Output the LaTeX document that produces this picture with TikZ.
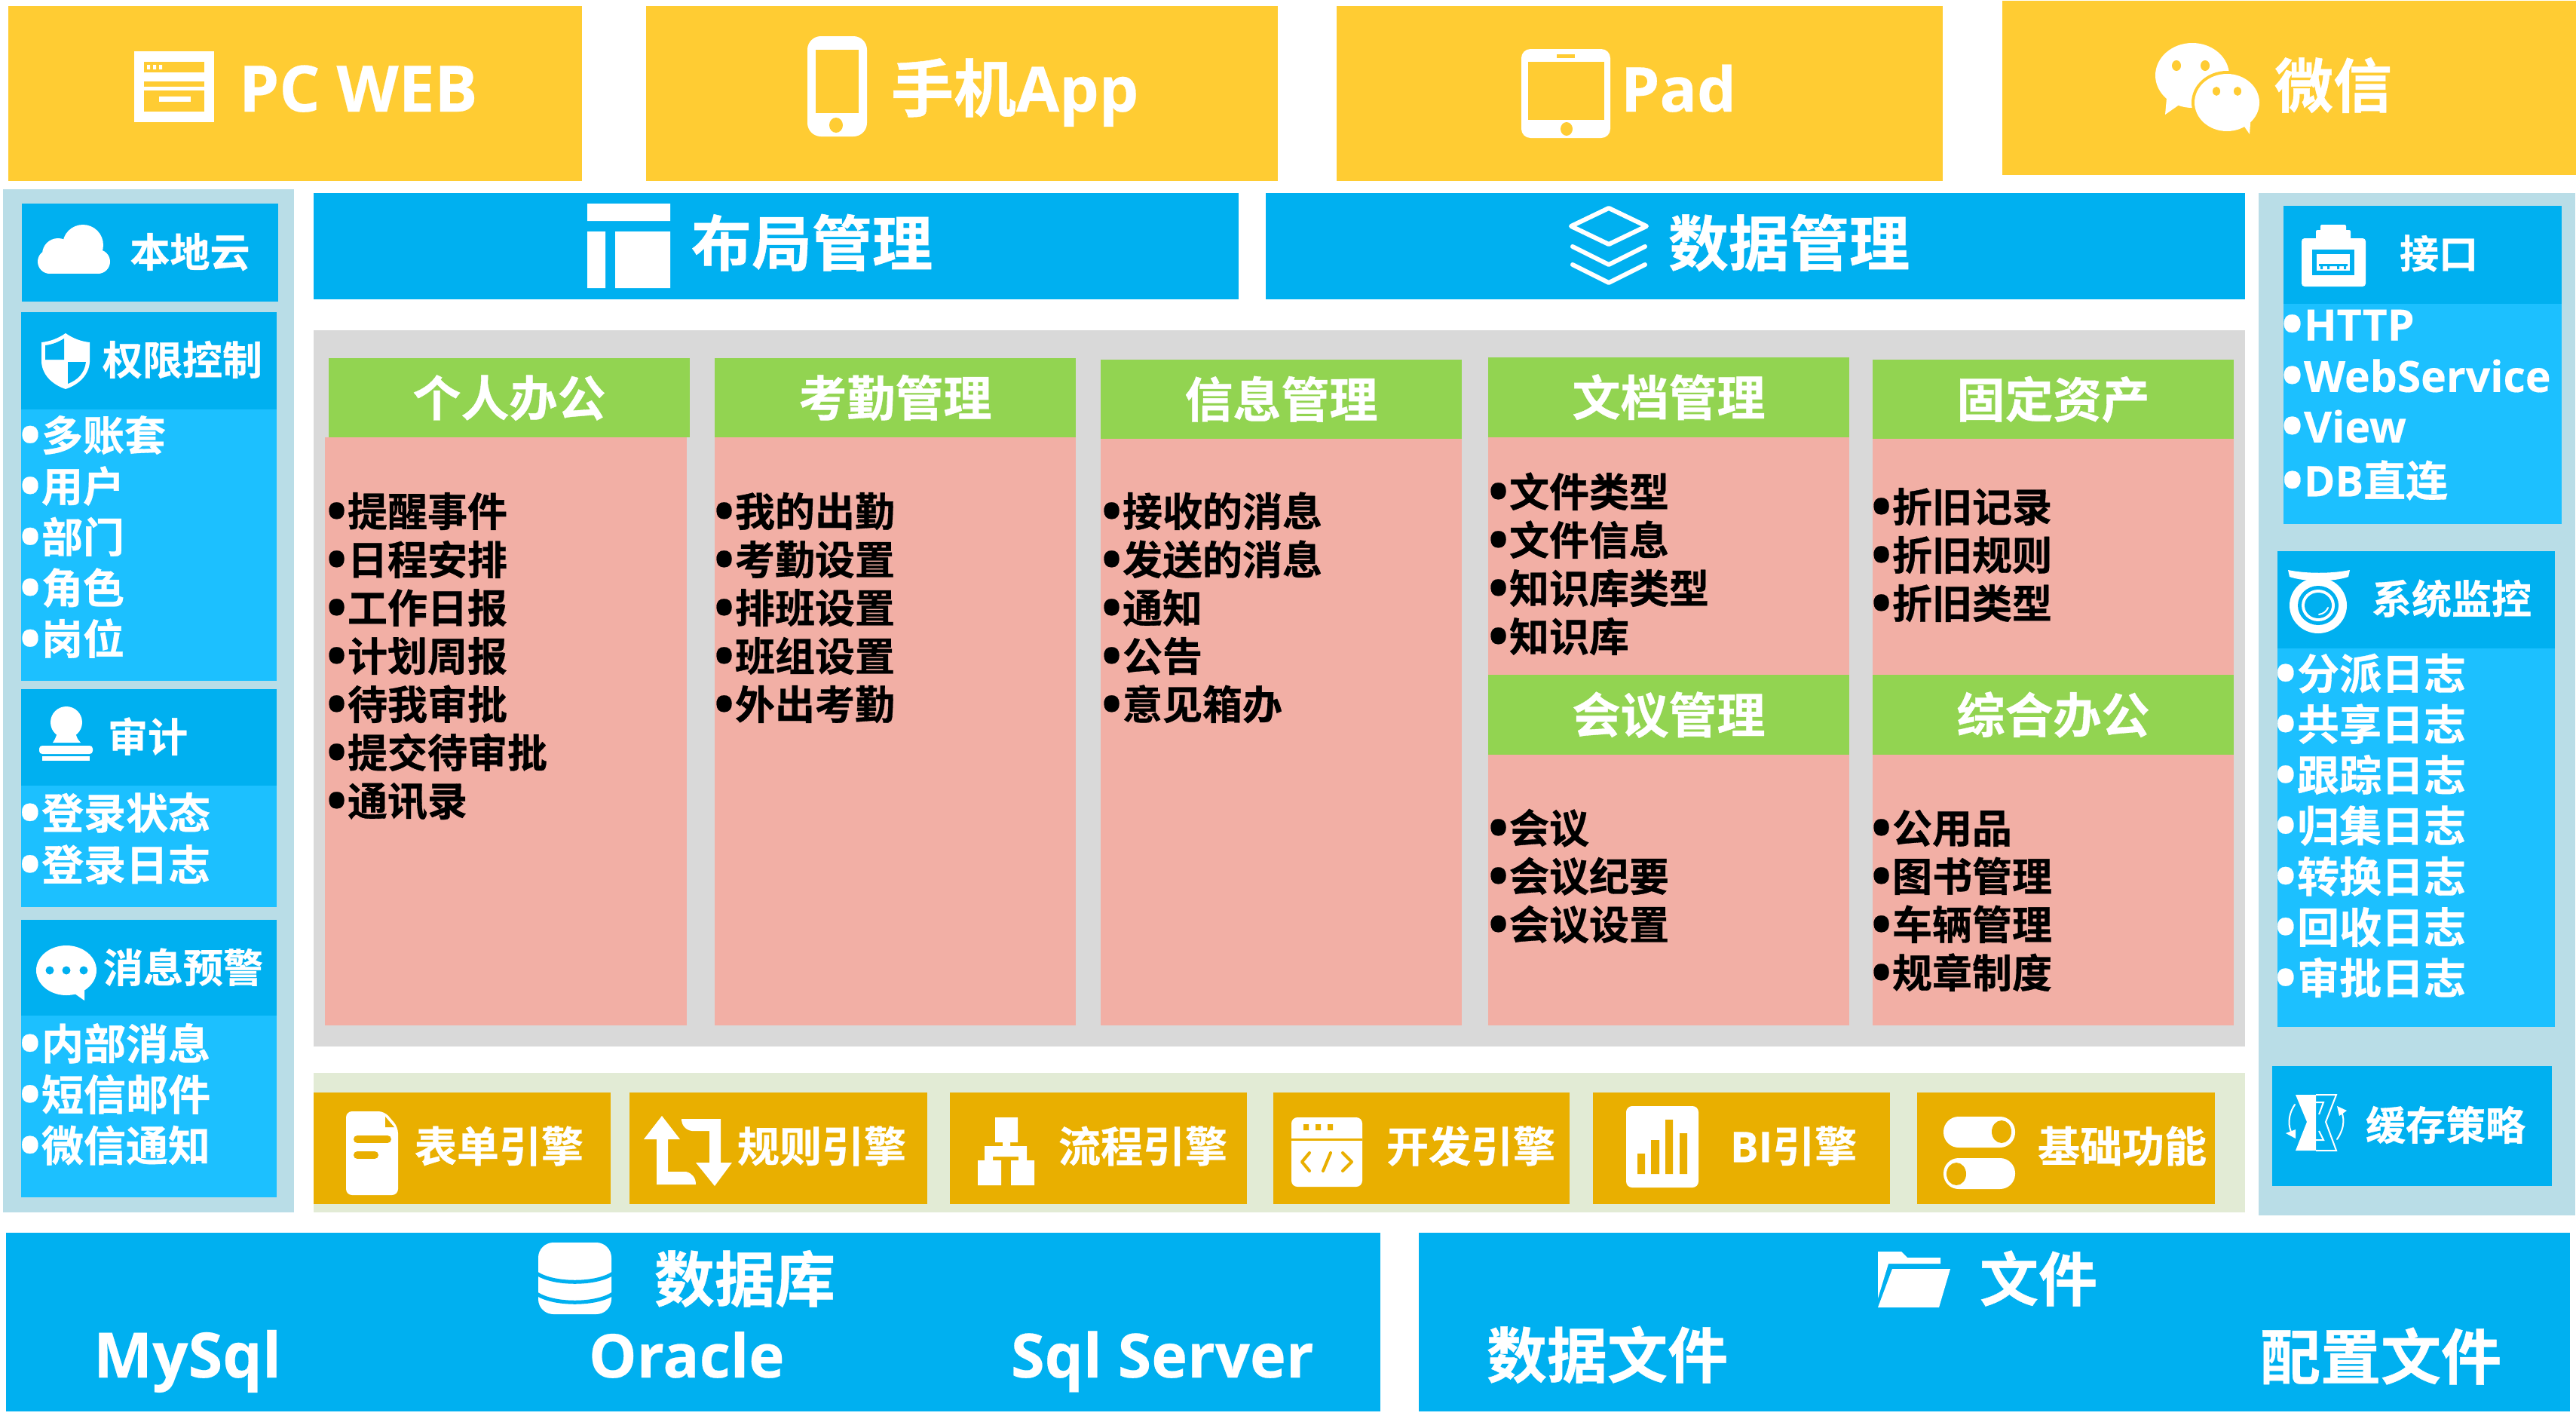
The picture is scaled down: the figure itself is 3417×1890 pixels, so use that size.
\documentclass[tikz,border=0pt]{standalone}
\usepackage{fontspec}
\newfontfamily\cjk{Noto Sans CJK SC}[BoldFont={* Bold},BoldFeatures={FakeBold=0.6}]
\newfontfamily\lat{Open Sans}[BoldFont={* Bold},BoldFeatures={FakeBold=0.3}]
\definecolor{orangeY}{HTML}{FFCC33}
\definecolor{blueA}{HTML}{00B0F0}
\definecolor{blueB}{HTML}{1CC0FF}
\definecolor{pillar}{HTML}{B9DDE7}
\definecolor{goldE}{HTML}{E9AF00}
\definecolor{greenH}{HTML}{92D451}
\definecolor{salmon}{HTML}{F2AFA5}
\definecolor{grayM}{HTML}{D9D9D9}
\definecolor{greenL}{HTML}{E2EBD5}
\tikzset{
  tx/.style={inner sep=0pt,outer sep=0pt,align=left,font=\fontsize{#1 pt}{#1 pt}\cjk\bfseries,
    text height={0.88*#1 pt},text depth={0.12*#1 pt}},
  tw/.style={tx=#1,text=white},
  tk/.style={tx=#1,text=black},
  lt/.style={inner sep=0pt,outer sep=0pt,text=white,font=\fontsize{#1 pt}{#1 pt}\lat\bfseries},
  bxs/.style={inner sep=0pt,outer sep=0pt,draw=none,fill=#1}
}
% \bx[options]{name}{x1}{y1}{x2}{y2}{text}
\newcommand{\bx}[7][]{%
  \pgfmathsetmacro\bxw{(#5-#3)*0.5}\pgfmathsetmacro\bxh{(#6-#4)*0.5}%
  \pgfmathsetmacro\bxx{(#5+#3)/2}\pgfmathsetmacro\bxy{(#6+#4)/2}%
  \node[inner sep=0pt,outer sep=0pt,minimum width=\bxw pt,minimum height=\bxh pt,#1] (#2) at (\bxx,\bxy) {#7};%
}
\newcommand{\itm}[1]{\llap{\raisebox{-0.1em}{\scalebox{1.35}{\lat\bfseries •}}\kern 0.5pt}#1}
\begin{document}
\begin{tikzpicture}[x=0.5pt,y=-0.5pt]
\useasboundingbox (0,0) rectangle (3417,1890);
\fill[white] (0,0) rectangle (3417,1890);
% ---------- top row
\fill[orangeY] (11,8) rectangle (772,240);
\fill[orangeY] (857,8) rectangle (1695,240);
\fill[orangeY] (1773,8) rectangle (2577,240);
\fill[orangeY] (2656,1) rectangle (3417,232);
\node[lt=42.5,anchor=base west] (pcweb) at (317,148) {PC WEB};
\node[tw=41.5,anchor=base west,text depth=0pt] (app) at (1182,148) {手机{\lat App}};
\node[lt=41,anchor=base west] (pad) at (2150,148) {Pad};
\node[tw=39,anchor=center] (wx) at (3095,113) {微信};
% PC WEB icon
\fill[white] (178,68) rectangle (284,162);
\fill[orangeY] (191,82) rectangle (271,96);
\fill[white] (195,86) rectangle (199,92) (203,86) rectangle (207,92) (211,86) rectangle (215,92);
\fill[orangeY] (191,108) rectangle (271,148);
\fill[white] (191,115) rectangle (271,120);
\fill[white] (211,128) rectangle (253,135);
% phone
\fill[white,rounded corners=9pt] (1071,48) rectangle (1150,181);
\fill[orangeY] (1082,66) rectangle (1139,150);
\fill[orangeY] (1109,166) ellipse (9 and 10);
% pad
\fill[white,rounded corners=6pt] (2018,65) rectangle (2136,183);
\fill[orangeY] (2027,82) rectangle (2128,159);
\fill[orangeY] (2065,72) rectangle (2089,77);
\fill[orangeY] (2078,171) ellipse (8 and 9);
% wechat
\fill[white] (2908,100) ellipse (49 and 43);
\fill[white] (2874,130) -- (2872,152) -- (2892,138) -- cycle;
\fill[orangeY] (2954,136) ellipse (47 and 42);
\fill[white] (2954,136) ellipse (43 and 38);
\fill[white] (2975,165) -- (2984,178) -- (2986,150) -- cycle;
\fill[orangeY] (2887,87) ellipse (6 and 7) (2925,87) ellipse (6 and 7) (2940,121) ellipse (5 and 6) (2968,121) ellipse (5 and 6);
% ---------- left pillar
\fill[pillar] (4,251) rectangle (390,1608);
\bx[bxs=blueA]{cloudb}{29}{270}{369}{400}{}
\node[tw=26.5] (bendi) at (252,334) {本地云};
\fill[white] (110,325) circle (27) (77,337) circle (21) (66,347) circle (16) (130,347) circle (16);
\fill[white] (66,335) rectangle (130,363);
\fill[blueA] (28,414) rectangle (367,543);
\fill[blueB] (28,543) rectangle (367,903);
\node[tw=26.5] (quanxian) at (242,477) {权限控制};
\fill[white] (87,442) .. controls (97,449) and (108,453) .. (119,454) -- (119,480) .. controls (118,497) and (105,510) .. (87,516) .. controls (69,510) and (56,497) .. (55,480) -- (55,454) .. controls (66,453) and (77,449) .. (87,442) -- cycle;
\fill[blueA] (85,449) .. controls (77,454) and (69,457) .. (60,458) -- (60,477) -- (85,477) -- cycle;
\fill[blueA] (90,480) -- (114,480) .. controls (112,495) and (103,504) .. (90,509) -- cycle;
\foreach \t [count=\i] in {多账套,用户,部门,角色,岗位}{
  \node[tw=27.5,anchor=west,name=q\i] at (55,577+67.5*\i-67.5) {\itm{\t}};
}
\fill[blueA] (28,914) rectangle (367,1042);
\fill[blueB] (28,1042) rectangle (367,1203);
\node[tw=26.5] (shenji) at (196,977) {审计};
\fill[white] (88,958) circle (21);
\fill[white] (77,970) -- (99,970) -- (103,980) -- (107,985) -- (70,985) -- (73,980) -- cycle;
\fill[white,rounded corners=2pt] (52,989) rectangle (123,1000);
\fill[white] (56,1003) rectangle (119,1009);
\foreach \t [count=\i] in {登录状态,登录日志}{
  \node[tw=28,anchor=west,name=s\i] at (55,1078+68.5*\i-68.5) {\itm{\t}};
}
\fill[blueA] (28,1220) rectangle (367,1347);
\fill[blueB] (28,1347) rectangle (367,1588);
\node[tw=26.5] (xiaoxi) at (243,1283) {消息预警};
\fill[white] (88,1287) ellipse (40 and 33);
\fill[white] (95,1315) -- (112,1327) -- (112,1308) -- cycle;
\fill[blueA] (66,1287) circle (5.5) (88,1287) circle (5.5) (111,1287) circle (5.5);
\foreach \t [count=\i] in {内部消息,短信邮件,微信通知}{
  \node[tw=28,anchor=west,name=x\i] at (55,1384+67.5*\i-67.5) {\itm{\t}};
}
% ---------- management bars
\fill[blueA] (416,256) rectangle (1643,397);
\fill[blueA] (1679,256) rectangle (2978,397);
\node[tw=40,anchor=west] (buju) at (917,322) {布局管理};
\node[tw=40,anchor=west] (shuju) at (2213,322) {数据管理};
\fill[white] (779,270) rectangle (889,293) (779,307) rectangle (803,382) (816,307) rectangle (889,382);
\draw[white,line width=3pt,line join=round] (2134,276) -- (2184,300) -- (2134,324) -- (2084,300) -- cycle;
\draw[white,line width=3pt,line join=round,line cap=round] (2086,327) -- (2134,351) -- (2182,327);
\draw[white,line width=3pt,line join=round,line cap=round] (2086,351) -- (2134,375) -- (2182,351);
% ---------- centre
\fill[grayM] (416,438) rectangle (2978,1388);
\foreach \a/\b in {431/911,948/1427,1460/1939}{\fill[salmon] (\a,580) rectangle (\b,1360);}
\foreach \a/\b in {1974/2453,2484/2963}{\fill[salmon] (\a,580) rectangle (\b,1360);}
\bx[bxs=greenH,tw=32]{hd1}{436}{475}{915}{580}{个人办公}
\bx[bxs=greenH,tw=32]{hd2}{948}{475}{1427}{580}{考勤管理}
\bx[bxs=greenH,tw=32]{hd3}{1460}{477}{1939}{582}{信息管理}
\bx[bxs=greenH,tw=32]{hd4}{1974}{474}{2453}{580}{文档管理}
\bx[bxs=greenH,tw=32]{hd5}{2484}{477}{2963}{582}{固定资产}
\bx[bxs=greenH,tw=32]{hd6}{1974}{895}{2453}{1001}{会议管理}
\bx[bxs=greenH,tw=32]{hd7}{2484}{895}{2963}{1001}{综合办公}
\foreach \t [count=\i] in {提醒事件,日程安排,工作日报,计划周报,待我审批,提交待审批,通讯录}{
  \node[tk=26.5,anchor=west,name=a\i] at (461,678+64*\i-64) {\itm{\t}};
}
\foreach \t [count=\i] in {我的出勤,考勤设置,排班设置,班组设置,外出考勤}{
  \node[tk=26.5,anchor=west,name=b\i] at (975,678+64*\i-64) {\itm{\t}};
}
\foreach \t [count=\i] in {接收的消息,发送的消息,通知,公告,意见箱办}{
  \node[tk=26.5,anchor=west,name=c\i] at (1489,678+64*\i-64) {\itm{\t}};
}
\foreach \t [count=\i] in {文件类型,文件信息,知识库类型,知识库}{
  \node[tk=26.5,anchor=west,name=d\i] at (2002,652+64*\i-64) {\itm{\t}};
}
\foreach \t [count=\i] in {折旧记录,折旧规则,折旧类型}{
  \node[tk=26.5,anchor=west,name=e\i] at (2510,672+64*\i-64) {\itm{\t}};
}
\foreach \t [count=\i] in {会议,会议纪要,会议设置}{
  \node[tk=26.5,anchor=west,name=f\i] at (2002,1098+64*\i-64) {\itm{\t}};
}
\foreach \t [count=\i] in {公用品,图书管理,车辆管理,规章制度}{
  \node[tk=26.5,anchor=west,name=g\i] at (2510,1098+64*\i-64) {\itm{\t}};
}
% ---------- engines
\fill[greenL] (416,1423) rectangle (2978,1608);
\foreach \a/\b in {416/810,835/1230,1260/1654,1689/2082,2113/2507,2543/2938}{\fill[goldE] (\a,1449) rectangle (\b,1597);}
\node[tw=28,anchor=west] (en1) at (550,1520) {表单引擎};
\node[tw=28,anchor=west] (en2) at (978,1520) {规则引擎};
\node[tw=28,anchor=west] (en3) at (1404,1520) {流程引擎};
\node[tw=28,anchor=west] (en4) at (1839,1520) {开发引擎};
\node[tw=28,anchor=west] (en5) at (2295,1520) {{\lat BI}引擎};
\node[tw=28,anchor=west] (en6) at (2703,1520) {基础功能};
% form icon
\fill[white,rounded corners=4pt] (459,1474) -- (510,1474) -- (528,1495) -- (528,1585) -- (459,1585) -- cycle;
\fill[goldE] (511,1481) -- (511,1495) -- (523,1495) -- cycle;
\draw[goldE,line width=5pt,line cap=round] (474,1511) -- (514,1511) (474,1532) -- (497,1532);
% arrows icon
\fill[white] (878,1480) -- (902,1511) -- (886,1511) -- (886,1554) -- (910,1554) .. controls (918,1556) and (923,1562) .. (923,1571) -- (871,1571) -- (871,1511) -- (854,1511) -- cycle;
\fill[white] (948,1573) -- (971,1542) -- (956,1542) -- (956,1484) -- (904,1484) .. controls (904,1493) and (910,1499) .. (918,1500) -- (941,1500) -- (941,1542) -- (923,1542) -- cycle;
% flow icon
\fill[white] (1320,1482) rectangle (1350,1515) (1297,1539) rectangle (1328,1572) (1341,1539) rectangle (1372,1572);
\fill[white] (1330,1515) rectangle (1340,1520) (1306,1520) rectangle (1362,1534) (1306,1534) rectangle (1317,1539) (1351,1534) rectangle (1362,1539);
% dev icon
\fill[white,rounded corners=4pt] (1713,1482) rectangle (1807,1574);
\fill[goldE] (1713,1510) rectangle (1807,1513);
\fill[goldE] (1729,1491) rectangle (1736,1499) (1745,1491) rectangle (1752,1499) (1761,1491) rectangle (1768,1499);
\draw[goldE,line width=2pt,line cap=round,line join=round] (1737,1529) -- (1727,1541) -- (1737,1553);
\draw[goldE,line width=2pt,line cap=round] (1765,1529) -- (1755,1553);
\draw[goldE,line width=2pt,line cap=round,line join=round] (1781,1529) -- (1793,1541) -- (1781,1553);
% BI icon
\fill[white,rounded corners=4pt] (2157,1467) rectangle (2253,1575);
\fill[goldE] (2172,1530) rectangle (2182,1557) (2190,1512) rectangle (2201,1557) (2209,1485) rectangle (2219,1557) (2228,1503) rectangle (2238,1557);
% toggle icon
\fill[white,rounded corners=10pt] (2578,1481) rectangle (2673,1522);
\fill[white,rounded corners=10pt] (2578,1536) rectangle (2673,1577);
\fill[goldE] (2655,1501) ellipse (13 and 15) (2595,1557) ellipse (13 and 15);
% ---------- right pillar
\fill[pillar] (2996,256) rectangle (3416,1612);
\fill[blueA] (3029,273) rectangle (3398,403);
\fill[blueB] (3029,403) rectangle (3398,695);
\node[tw=26,anchor=center] (jiekou) at (3235,336) {接口};
\fill[white,rounded corners=2pt] (3053,316) rectangle (3138,380);
\fill[white,rounded corners=1pt] (3072,305) rectangle (3118,325) (3078,298) rectangle (3112,325);
\fill[blueA] (3067,331) rectangle (3123,365);
\fill[white] (3073,337) rectangle (3117,359);
\fill[blueA] (3076,350) rectangle (3114,353) (3078,350) rectangle (3081,357) (3087,350) rectangle (3090,357) (3100,350) rectangle (3103,357) (3109,350) rectangle (3112,357);
\foreach \t [count=\i] in {HTTP,WebService,View}{
  \node[lt=28.5,anchor=west,name=j\i] at (3056,434+67*\i-67) {\itm{\t}};
}
\node[tw=28,anchor=west] (j4) at (3056,637) {\itm{{\lat DB}直连}};
\fill[blueA] (3021,731) rectangle (3389,860);
\fill[blueB] (3021,860) rectangle (3389,1362);
\node[tw=26.5] (jiankong) at (3252,794) {系统监控};
\fill[white] (3035,756) .. controls (3060,761) and (3092,761) .. (3117,756) -- (3115,765) .. controls (3095,772) and (3057,772) .. (3037,765) -- cycle;
\fill[white] (3075,803) ellipse (38 and 37);
\fill[blueA] (3075,803) ellipse (27 and 26);
\fill[white] (3075,803) ellipse (22 and 21);
\fill[blueA] (3075,803) ellipse (18 and 17);
\draw[white,line width=1pt,line cap=round] (3076,815) .. controls (3082,814) and (3086,811) .. (3088,806);
\foreach \t [count=\i] in {分派日志,共享日志,跟踪日志,归集日志,转换日志,回收日志,审批日志}{
  \node[tw=28,anchor=west,name=m\i] at (3047,893+67.3*\i-67.3) {\itm{\t}};
}
\fill[blueA] (3014,1414) rectangle (3385,1573);
\node[tw=26.5,anchor=west] (huancun) at (3138,1492) {缓存策略};
\fill[white] (3045,1452) -- (3072,1452) -- (3072,1526) -- (3045,1526) -- (3060,1488) -- cycle;
\draw[white,line width=1pt,line join=miter] (3072,1452) -- (3099,1452) -- (3085,1488) -- (3099,1526) -- (3072,1526);
\draw[white,line width=1pt] (3072,1462) -- (3082,1462) -- (3076,1478) (3076,1500) -- (3082,1512) -- (3072,1512);
\draw[white,line width=1pt,line cap=round] (3044,1465) .. controls (3034,1480) and (3035,1495) .. (3041,1505);
\fill[white] (3032,1503) -- (3045,1510) -- (3045,1498) -- cycle;
\draw[white,line width=1pt,line cap=round] (3100,1511) .. controls (3111,1495) and (3110,1480) .. (3104,1472);
\fill[white] (3100,1467) -- (3113,1473) -- (3103,1480) -- cycle;
% ---------- storage
\fill[blueA] (8,1635) rectangle (1831,1872);
\fill[blueA] (1882,1635) rectangle (3409,1872);
\node[tw=40,anchor=west] (dbt) at (868,1696) {数据库};
\node[lt=41.5,anchor=base west] (mysql) at (124,1827) {MySql};
\node[lt=40,anchor=base west] (oracle) at (781,1827) {Oracle};
\node[lt=40.5,anchor=base west] (sqlsrv) at (1341,1827) {Sql Server};
\node[tw=39,anchor=west] (wj) at (2626,1696) {文件};
\node[tw=40,anchor=west] (wj1) at (1972,1797) {数据文件};
\node[tw=40,anchor=west] (wj2) at (2998,1799) {配置文件};
\fill[white,rounded corners=10pt] (714,1648) rectangle (811,1743);
\draw[blueA,line width=2.5pt] (712,1689) .. controls (735,1704) and (790,1704) .. (813,1689);
\draw[blueA,line width=2.5pt] (712,1716) .. controls (735,1731) and (790,1731) .. (813,1716);
\fill[white] (2491,1660) -- (2522,1660) -- (2530,1668) -- (2574,1668) -- (2574,1676) -- (2505,1676) -- (2491,1722) -- cycle;
\fill[white] (2510,1683) -- (2587,1683) -- (2572,1734) -- (2491,1734) -- cycle;
\end{tikzpicture}
\end{document}
